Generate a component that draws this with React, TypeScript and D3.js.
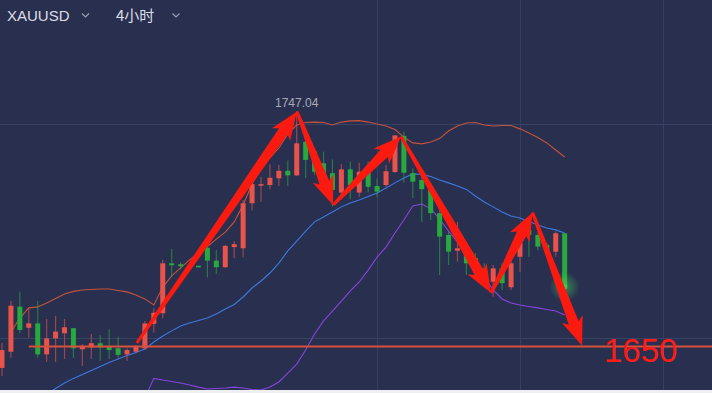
import React, { useEffect, useRef } from 'react';
import * as d3 from 'd3';

// 4h candles (index 0 = leftmost candle)
const opens = [1641.1, 1647.8, 1666.4, 1657.7, 1659.5, 1646.7, 1653.3, 1655.4, 1657.5, 1648.8, 1649.5, 1651.3, 1650.2, 1649.2, 1646.7, 1647.8,
  1649.2, 1659.3, 1663.7, 1684.3, 1683.9, 1683.3, 1683.3, 1690.7, 1685.4, 1682.7, 1691.0, 1690.5, 1709.1, 1716.5, 1716.6, 1719.4,
  1722.5, 1720.6, 1734.5, 1730.4, 1725.6, 1721.5, 1713.5, 1723.1, 1713.5, 1722.1, 1716.2, 1716.6, 1722.0, 1736.9, 1721.6, 1718.7,
  1715.0, 1705.0, 1696.0, 1689.5, 1691.2, 1686.5, 1682.2, 1676.7, 1682.2, 1674.4, 1687.0, 1698.1, 1696.0, 1691.9, 1689.1, 1696.7];
const highs = [1651.4, 1668.7, 1672.6, 1666.0, 1668.7, 1661.3, 1662.6, 1661.3, 1657.6, 1650.9, 1655.1, 1654.7, 1657.1, 1654.0, 1649.2, 1650.6,
  1660.5, 1665.7, 1685.7, 1690.2, 1684.7, 1683.4, 1683.4, 1693.2, 1689.8, 1692.0, 1693.5, 1710.4, 1718.7, 1719.9, 1725.2, 1724.9,
  1726.7, 1747.04, 1739.0, 1731.0, 1730.4, 1727.2, 1725.3, 1726.3, 1725.8, 1726.3, 1719.4, 1724.9, 1737.3, 1738.6, 1723.5, 1722.0,
  1717.5, 1707.0, 1697.4, 1701.5, 1692.3, 1688.6, 1684.3, 1683.6, 1684.3, 1686.4, 1695.3, 1698.8, 1696.7, 1692.7, 1697.4, 1696.7];
const lows = [1637.8, 1645.3, 1655.4, 1653.6, 1645.3, 1643.6, 1643.6, 1644.8, 1645.3, 1642.0, 1644.8, 1644.0, 1644.8, 1645.3, 1644.0, 1647.2,
  1648.5, 1655.7, 1661.6, 1678.8, 1681.8, 1682.7, 1682.6, 1678.5, 1679.9, 1682.4, 1686.4, 1686.8, 1706.1, 1709.6, 1714.9, 1716.2,
  1716.2, 1720.4, 1719.4, 1720.8, 1718.0, 1707.7, 1710.7, 1710.7, 1711.8, 1713.5, 1711.6, 1715.9, 1721.6, 1717.7, 1711.3, 1701.5,
  1702.2, 1679.5, 1683.6, 1685.0, 1679.5, 1679.5, 1674.6, 1670.5, 1673.3, 1673.3, 1680.8, 1687.0, 1689.8, 1688.4, 1687.0, 1674.6];
const closes = [1648.5, 1666.8, 1656.8, 1659.5, 1646.7, 1653.3, 1656.1, 1657.9, 1649.2, 1650.2, 1651.3, 1649.5, 1648.5, 1646.5, 1648.5, 1649.9,
  1659.5, 1663.9, 1684.3, 1683.5, 1683.1, 1682.8, 1682.7, 1685.4, 1682.7, 1691.5, 1692.2, 1709.1, 1717.0, 1717.0, 1719.6, 1722.5,
  1720.6, 1733.8, 1727.0, 1722.1, 1718.7, 1714.6, 1723.1, 1716.6, 1722.1, 1715.9, 1713.9, 1722.3, 1737.1, 1721.7, 1718.0, 1714.9,
  1705.0, 1695.3, 1689.1, 1690.5, 1684.3, 1682.4, 1678.1, 1682.2, 1676.1, 1684.3, 1692.6, 1696.0, 1691.2, 1689.1, 1696.7, 1674.6];

// Bollinger bands (null = not drawn)
const upperBand = [null, 1655.9, 1661.7, 1665.9, 1666.3, 1667.9, 1669.8, 1671.6, 1672.7, 1673.3, 1673.5, 1673.7, 1673.7, 1673.1, 1672.5, 1671.2,
  1669.6, 1667.1, 1674.5, 1679.1, 1682.4, 1685.7, 1688.6, 1691.2, 1694.3, 1697.2, 1701.4, 1708.4, 1717.0, 1723.7, 1727.8, 1731.9,
  1737.7, 1741.4, 1742.4, 1742.6, 1742.4, 1741.4, 1742.6, 1743.1, 1743.2, 1742.6, 1741.8, 1741.0, 1739.5, 1736.4, 1734.0, 1733.6,
  1734.4, 1735.8, 1738.9, 1741.0, 1742.2, 1742.4, 1741.4, 1741.0, 1741.2, 1741.2, 1739.8, 1738.1, 1736.2, 1734.0, 1731.1, 1728.2];
const midBand = [null, null, null, null, null, 1630.4, 1632.6, 1634.9, 1636.8, 1638.4, 1640.1, 1641.7, 1643.4, 1644.8, 1646.2, 1647.5,
  1648.9, 1651.8, 1654.3, 1656.4, 1658.4, 1659.7, 1660.7, 1661.7, 1663.4, 1665.4, 1667.3, 1670.4, 1674.1, 1677.0, 1680.3, 1684.4,
  1689.4, 1693.5, 1697.6, 1701.4, 1703.4, 1705.5, 1707.6, 1709.2, 1710.4, 1711.9, 1713.3, 1715.4, 1717.5, 1719.5, 1721.2, 1721.0,
  1720.1, 1718.7, 1717.5, 1716.2, 1714.8, 1712.1, 1709.6, 1707.6, 1705.5, 1703.8, 1703.0, 1701.6, 1700.1, 1698.9, 1698.1, 1696.8];
const lowerBand = [null, null, null, null, null, null, null, null, null, null, null, null, null, null, null, null,
  1628.7, 1636.8, 1636.1, 1635.5, 1634.9, 1634.1, 1633.2, 1632.4, 1632.6, 1632.8, 1633.2, 1632.8, 1632.2, 1632.0, 1633.2, 1635.3,
  1639.0, 1642.7, 1648.5, 1655.1, 1660.5, 1664.6, 1668.7, 1672.9, 1676.6, 1681.5, 1686.9, 1691.0, 1696.8, 1702.2, 1708.0, 1708.8,
  1706.9, 1702.6, 1697.6, 1693.1, 1689.0, 1684.4, 1678.7, 1673.3, 1669.6, 1667.9, 1667.1, 1666.5, 1665.9, 1665.2, 1664.6, 1663.0];

// hand-drawn zigzag arrows (candle index, price)
const arrowIdx = [15.1, 33.03, 37.07, 44.68, 54.76, 59.41, 64.95];
const arrowPrice = [1651.4, 1747.0, 1708.4, 1736.7, 1672.0, 1705.3, 1650.4];

const gridPrices = [1653.5, 1741.8];
const gridIdx = [42, 58, 74];
const supportLevel = 1650;
const supportLabel = '1650';
const peakIdx = 33;
const peakLabel = '1747.04';
const symbol = 'XAUUSD';
const period = '4小时';

const W = 712;
const H = 393;
const PLOT_H = 390;

const App = () => {
  const ref = useRef<SVGSVGElement>(null);

  useEffect(() => {
    const svg = d3.select(ref.current);
    svg.selectAll('*').remove();

    const x = d3.scaleLinear().domain([0, 79.5]).range([2, 712]);
    const y = d3.scaleLinear().domain([1632, 1793]).range([PLOT_H, 0]);

    const defs = svg.append('defs');
    defs.append('clipPath').attr('id', 'plot')
      .append('rect').attr('x', 0).attr('y', 0).attr('width', W).attr('height', PLOT_H);
    const glow = defs.append('radialGradient').attr('id', 'glow');
    glow.append('stop').attr('offset', '0%').attr('stop-color', 'rgb(70,210,90)').attr('stop-opacity', 0.55);
    glow.append('stop').attr('offset', '100%').attr('stop-color', 'rgb(70,210,90)').attr('stop-opacity', 0);

    svg.append('rect').attr('width', W).attr('height', H).attr('fill', '#eeeff1');
    svg.append('rect').attr('width', W).attr('height', PLOT_H).attr('fill', '#29304f');

    const g = svg.append('g').attr('clip-path', 'url(#plot)');

    // grid
    g.selectAll('.hgrid').data(gridPrices).enter().append('line')
      .attr('x1', 0).attr('x2', W)
      .attr('y1', d => Math.round(y(d)) + 0.5).attr('y2', d => Math.round(y(d)) + 0.5)
      .attr('stroke', '#384262').attr('stroke-width', 1);
    g.selectAll('.vgrid').data(gridIdx).enter().append('line')
      .attr('x1', d => Math.round(x(d)) + 0.5).attr('x2', d => Math.round(x(d)) + 0.5)
      .attr('y1', 0).attr('y2', PLOT_H)
      .attr('stroke', '#354060').attr('stroke-width', 1);

    // bands
    const bandLine = d3.line<number | null>()
      .defined(d => d != null)
      .x((d, i) => x(i))
      .y(d => y(d as number));
    const bands: [(number | null)[], string][] = [
      [upperBand, '#c4523d'],
      [midBand, '#3f78de'],
      [lowerBand, '#8644de'],
    ];
    bands.forEach(([vals, col]) => {
      g.append('path').attr('d', bandLine(vals)).attr('fill', 'none')
        .attr('stroke', col).attr('stroke-width', 1.1);
    });

    // candles
    const idx = d3.range(opens.length);
    const up = (i: number) => closes[i] >= opens[i];
    const red = '#e8544b';
    const green = '#27a93d';
    const bw = 5;
    g.selectAll('.wick').data(idx).enter().append('line')
      .attr('x1', i => x(i)).attr('x2', i => x(i))
      .attr('y1', i => y(highs[i])).attr('y2', i => y(lows[i]))
      .attr('stroke', i => up(i) ? red : green)
      .attr('stroke-opacity', 0.6)
      .attr('stroke-width', 1.2);
    g.selectAll('.body').data(idx).enter().append('rect')
      .attr('x', i => x(i) - bw / 2)
      .attr('width', bw)
      .attr('y', i => y(Math.max(opens[i], closes[i])))
      .attr('height', i => Math.max(1.6, Math.abs(y(opens[i]) - y(closes[i]))))
      .attr('fill', i => up(i) ? red : green);

    // glow on the last close
    const last = opens.length - 1;
    g.append('circle').attr('cx', x(last)).attr('cy', y(closes[last]))
      .attr('r', 15).attr('fill', 'url(#glow)');
    g.append('circle').attr('cx', x(last)).attr('cy', y(closes[last]))
      .attr('r', 2.6).attr('fill', '#3ccf55');

    // support line
    g.append('line')
      .attr('x1', x(3)).attr('x2', W)
      .attr('y1', y(supportLevel)).attr('y2', y(supportLevel))
      .attr('stroke', '#d8503b').attr('stroke-width', 2);

    // arrows
    const arrow = (x0: number, y0: number, x1: number, y1: number) => {
      const dx = x1 - x0, dy = y1 - y0;
      const L = Math.hypot(dx, dy);
      const ux = dx / L, uy = dy / L;
      const nx = -uy, ny = ux;
      const head = 24, hw = 11, tail = 1.5, sw = 5.2;
      const bx = x1 - ux * head, by = y1 - uy * head;
      const pts: [number, number][] = [
        [x0 + nx * tail, y0 + ny * tail],
        [bx + nx * sw, by + ny * sw],
        [bx - ux * 4 + nx * hw, by - uy * 4 + ny * hw],
        [x1, y1],
        [bx - ux * 4 - nx * hw, by - uy * 4 - ny * hw],
        [bx - nx * sw, by - ny * sw],
        [x0 - nx * tail, y0 - ny * tail],
      ];
      return 'M' + pts.map(p => p.join(',')).join('L') + 'Z';
    };
    const ag = svg.append('g');
    for (let k = 0; k < arrowIdx.length - 1; k++) {
      ag.append('path')
        .attr('d', arrow(x(arrowIdx[k]), y(arrowPrice[k]), x(arrowIdx[k + 1]), y(arrowPrice[k + 1])))
        .attr('fill', '#fb1a10');
    }

    // labels
    svg.append('text')
      .attr('x', x(peakIdx)).attr('y', y(highs[peakIdx]) - 4)
      .attr('text-anchor', 'middle')
      .attr('font-family', '"Liberation Sans", Arial, sans-serif')
      .attr('font-size', 12).attr('fill', '#a7aab6')
      .text(peakLabel);
    svg.append('text')
      .attr('x', 604).attr('y', y(supportLevel) + 16)
      .attr('font-family', '"Liberation Sans", Arial, sans-serif')
      .attr('font-size', 33).attr('fill', '#ff1c16')
      .text(supportLabel);

    // header
    svg.append('text').attr('x', 7).attr('y', 21)
      .attr('font-family', '"Liberation Sans", Arial, sans-serif')
      .attr('font-size', 15).attr('fill', '#dcdee6').text(symbol);
    svg.append('text').attr('x', 116).attr('y', 21)
      .attr('font-family', '"Noto Sans CJK SC", "Liberation Sans", sans-serif')
      .attr('font-size', 15).attr('fill', '#dcdee6').text(period);
    [85.5, 176].forEach(cx => {
      svg.append('path')
        .attr('d', `M${cx - 3.5},13.5L${cx},17L${cx + 3.5},13.5`)
        .attr('fill', 'none').attr('stroke', '#9aa0b2').attr('stroke-width', 1.1);
    });
  }, []);

  return (
    <svg ref={ref} width={W} height={H}
      style={{ position: 'absolute', left: 0, top: 0, display: 'block' }} />
  );
};

export default App;
